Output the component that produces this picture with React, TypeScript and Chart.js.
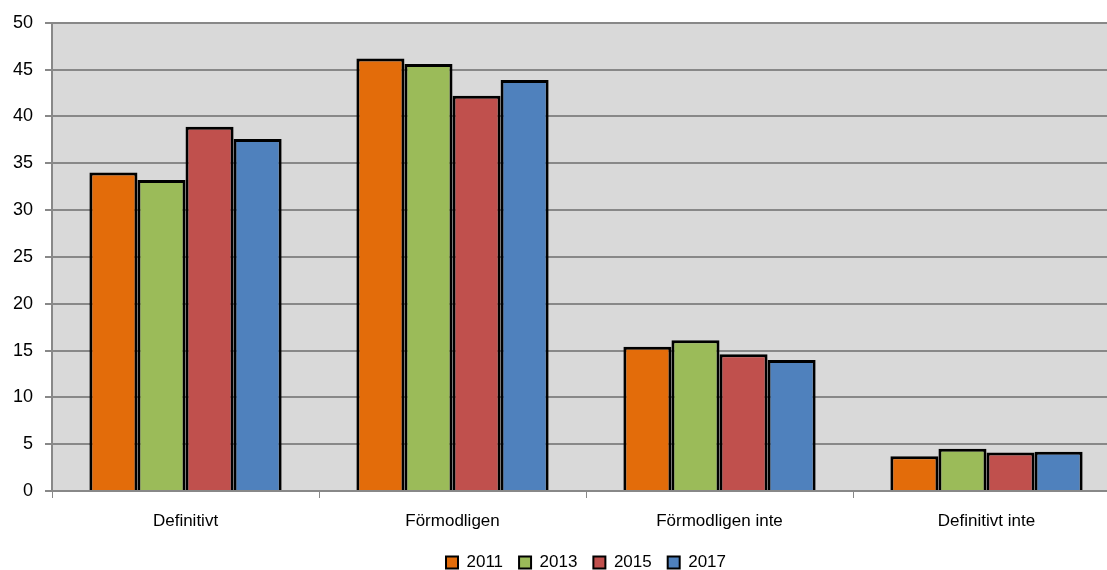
import React, { useEffect, useRef } from "react";
import { Chart, registerables } from "chart.js";

Chart.register(...registerables);

const categories = ["Definitivt", "Förmodligen", "Förmodligen inte", "Definitivt inte"];
const seriesLabels = ["2011", "2013", "2015", "2017"];
const values2011 = [34.0, 46.2, 15.4, 3.7];
const values2013 = [33.2, 45.6, 16.1, 4.5];
const values2015 = [38.9, 42.2, 14.6, 4.1];
const values2017 = [37.6, 43.9, 14.0, 4.2];
const colors = ["#E36C0A", "#9BBB59", "#C0504D", "#4F81BD"];
const yTicks = [0, 5, 10, 15, 20, 25, 30, 35, 40, 45, 50];

const bgPlugin = {
  id: "plotBg",
  beforeDraw(chart: any) {
    const { ctx, chartArea } = chart;
    ctx.save();
    ctx.fillStyle = "#d9d9d9";
    ctx.fillRect(chartArea.left, chartArea.top, chartArea.right - chartArea.left, chartArea.bottom - chartArea.top);
    ctx.restore();
  },
};

export default function App() {
  const ref = useRef<HTMLCanvasElement>(null);
  useEffect(() => {
    if (!ref.current) return;
    const all = [values2011, values2013, values2015, values2017];
    const chart = new Chart(ref.current, {
      type: "bar",
      data: {
        labels: categories,
        datasets: all.map((v, i) => ({
          label: seriesLabels[i],
          data: v,
          backgroundColor: colors[i],
          borderColor: "#000",
          borderWidth: 3,
          borderSkipped: "bottom",
          categoryPercentage: 0.72,
          barPercentage: 1,
        })),
      },
      options: {
        responsive: false,
        animation: false,
        layout: { padding: { top: 19, left: 1, right: 5, bottom: 0 } },
        plugins: {
          legend: {
            position: "bottom",
            fullSize: false,
            labels: {
              boxWidth: 12,
              boxHeight: 12,
              padding: 16,
              color: "#000",
              font: { family: "Liberation Sans", size: 17 },
              generateLabels: (c: any) =>
                c.data.datasets.map((d: any, i: number) => ({
                  text: d.label,
                  fillStyle: d.backgroundColor,
                  strokeStyle: "#000",
                  lineWidth: 2,
                  datasetIndex: i,
                  hidden: false,
                })),
            },
          },
          tooltip: { enabled: false },
        },
        scales: {
          x: {
            afterFit: (s: any) => {
              s.height = 47;
            },
            grid: { drawOnChartArea: false, drawTicks: true, tickLength: 7, color: "#888", offset: true },
            border: { color: "#888", width: 2 },
            ticks: { color: "#000", font: { family: "Liberation Sans", size: 17 }, padding: 13 },
          },
          y: {
            min: 0,
            max: 50,
            afterBuildTicks: (s: any) => {
              s.ticks = yTicks.map((v) => ({ value: v }));
            },
            grid: { color: "#888", lineWidth: 2, tickLength: 7 },
            border: { color: "#888", width: 2 },
            ticks: { color: "#000", font: { family: "Liberation Sans", size: 18 }, padding: 12 },
          },
        },
      },
      plugins: [bgPlugin],
    });
    return () => chart.destroy();
  }, []);
  return (
    <div style={{ position: "fixed", left: 0, top: 0, width: 1107, height: 570, overflow: "hidden", background: "#fff" }}>
      <canvas ref={ref} width={1125} height={581} />
    </div>
  );
}
